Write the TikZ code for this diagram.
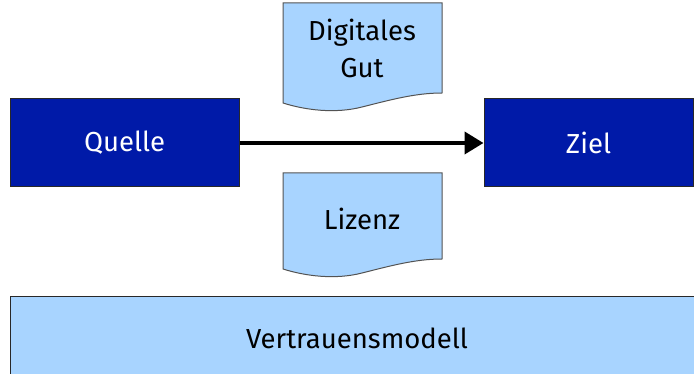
\documentclass[tikz,border=0pt]{standalone}
\usepackage{fontspec}
\setmainfont{Fira Sans}
\usetikzlibrary{arrows.meta}
\definecolor{darkbox}{RGB}{0,26,168}
\definecolor{lightbox}{RGB}{168,212,255}
\definecolor{edge}{RGB}{40,40,40}
\tikzset{
  mainbox/.style={draw=edge, line width=1pt, fill=darkbox, text=white, inner sep=0pt,
    font=\fontsize{27.5}{33}\selectfont},
  lightrect/.style={draw=edge, line width=1pt, fill=lightbox},
  doctext/.style={text=black, align=center, font=\fontsize{27.5}{37}\selectfont},
  docshape/.style={draw=edge!80, line width=1pt, fill=lightbox},
  flow/.style={line width=4pt, -{Triangle[length=19pt,width=22pt]}}
}
\begin{document}
\begin{tikzpicture}[x=1pt,y=-1pt]
\useasboundingbox (0,0) rectangle (694,374);
\begin{scope}
\clip (0,0) rectangle (694,374);
% Quelle and Ziel
\node[mainbox, minimum width=229pt, minimum height=88pt] (quelle) at (124.5,143) {Quelle};
\node[mainbox, minimum width=209pt, minimum height=88pt] (ziel) at (588.5,143) {Ziel};
\draw[flow] (quelle.east) -- (ziel.west);
% Digitales Gut document
\draw[docshape] (283,3) -- (442,3) -- (442,93)
  .. controls (415,93) and (390,100) .. (362,107)
  .. controls (335,114) and (305,110) .. (283,103) -- cycle;
\node[doctext] (gut) at (362,48) {Digitales\\Gut};
% Lizenz document
\draw[docshape] (283,173) -- (442,173) -- (442,259)
  .. controls (415,259) and (390,266) .. (362,273)
  .. controls (335,280) and (305,276) .. (283,269) -- cycle;
\node[doctext] (lizenz) at (362,219) {Lizenz};
% Vertrauensmodell
\draw[lightrect] (10,297) rectangle (710,390);
\node[doctext] (vertrauen) at (357,338) {Vertrauensmodell};
\end{scope}
\end{tikzpicture}
\end{document}
